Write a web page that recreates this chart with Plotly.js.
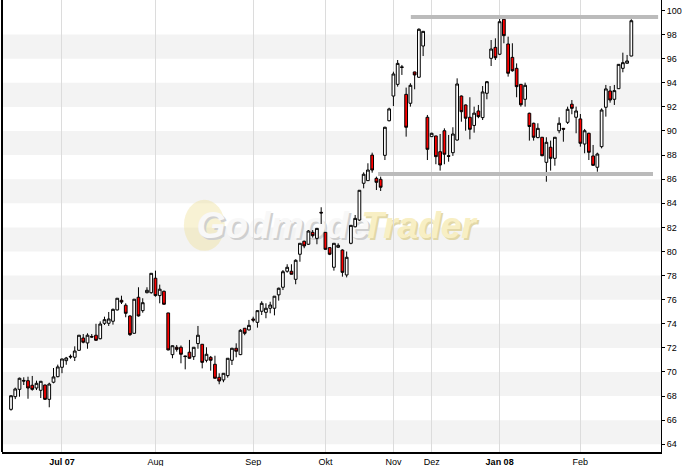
<!DOCTYPE html>
<html>
<head>
<meta charset="utf-8">
<script src="https://cdn.plot.ly/plotly-3.0.1.min.js"></script>
<style>html,body{margin:0;padding:0;background:#fff;}#chart{width:684px;height:466px;}</style>
</head>
<body>
<div id="chart"></div>
<script>
// Daily OHLC values (one entry per trading day)
const openVals = [66.90,67.95,68.56,69.30,69.28,68.90,68.67,68.48,68.92,67.73,69.15,69.61,70.39,70.94,71.30,71.22,71.80,72.82,72.41,72.95,
73.05,72.76,74.04,74.04,74.21,75.15,75.95,75.54,74.65,73.21,76.20,75.09,76.58,76.58,77.78,76.34,76.70,74.90,71.44,72.05,
72.05,71.33,71.64,71.27,72.36,72.30,70.97,71.22,70.64,69.56,69.34,69.70,70.97,71.97,71.44,73.63,73.49,74.40,74.12,75.04,
74.95,75.29,75.29,76.40,77.03,78.36,78.36,77.69,79.77,80.85,80.60,81.59,81.09,83.25,81.59,80.32,78.69,80.35,80.12,78.05,
80.68,82.05,82.61,85.66,85.88,88.00,86.07,85.99,87.98,90.85,92.90,93.87,95.32,93.04,92.30,94.90,94.46,97.05,91.14,89.53,
89.59,88.28,90.02,87.95,88.20,89.25,92.90,92.16,91.14,90.46,91.66,91.11,93.13,96.03,96.94,96.37,99.27,97.22,96.11,95.20,
93.87,92.63,91.47,90.64,89.45,89.48,87.40,88.65,87.73,90.02,90.22,90.72,92.22,91.14,91.00,88.92,89.81,87.93,86.99,88.70,
91.97,93.32,92.63,93.51,95.20,95.62,96.22];
const highVals = [68.05,68.70,69.53,69.56,69.61,69.67,69.28,69.25,68.95,69.11,70.33,70.61,71.10,71.25,71.45,72.13,73.06,73.15,73.21,73.15,
74.00,74.20,74.59,74.98,75.26,76.13,76.33,75.70,74.70,76.05,77.03,76.12,77.03,78.20,78.41,77.25,76.75,74.91,72.20,72.24,
72.20,71.35,72.66,72.06,73.82,72.31,72.05,71.33,71.35,69.89,69.90,71.15,72.00,72.38,73.55,73.65,74.32,74.59,75.10,75.87,
75.70,75.83,76.30,77.00,78.46,78.94,78.94,79.35,80.70,80.90,81.78,81.78,81.95,83.67,81.60,80.35,80.70,80.68,80.18,80.00,
82.20,83.03,85.10,86.57,87.32,88.20,86.21,86.21,90.35,91.93,94.92,95.89,95.48,93.60,93.96,94.92,98.52,98.30,91.33,89.85,
89.60,89.75,90.22,89.67,90.31,94.37,92.95,92.20,92.80,92.02,92.16,93.73,94.15,97.55,97.69,99.35,99.49,97.83,97.28,95.61,
93.90,94.01,91.52,90.69,90.64,89.50,89.48,89.20,89.50,91.14,90.25,92.02,92.57,92.02,91.41,90.17,89.85,88.84,88.20,91.88,
93.82,93.73,93.82,95.55,96.50,96.31,99.27];
const lowVals = [66.79,67.75,67.95,68.92,67.78,68.45,68.50,67.84,67.68,67.07,69.06,69.56,69.90,70.60,71.10,70.91,71.75,72.38,71.93,72.85,
72.60,72.71,73.90,73.82,73.93,75.10,75.64,74.54,72.99,73.20,74.60,74.92,76.53,76.50,76.25,75.70,75.60,71.80,71.14,71.69,
70.72,70.22,71.10,71.00,71.93,70.30,70.80,70.11,69.45,68.98,69.15,69.53,70.58,71.22,71.40,73.05,73.45,74.12,73.68,74.73,
74.46,74.87,74.70,75.92,76.80,78.24,78.10,77.28,79.15,80.27,80.55,81.15,80.60,82.28,80.15,79.70,78.41,80.30,77.91,77.85,
80.60,82.00,82.55,85.24,85.85,86.54,85.10,85.02,87.59,90.80,92.07,93.68,94.65,89.53,92.02,93.46,94.40,96.22,87.59,89.50,
87.24,86.71,87.24,87.45,87.93,89.20,90.77,90.02,89.31,89.86,91.06,90.91,92.63,95.39,95.89,96.30,97.28,94.51,94.92,92.80,
92.02,92.02,89.20,89.20,89.40,87.90,85.79,86.71,87.12,89.81,89.11,90.58,91.39,89.81,88.70,88.15,87.59,87.10,86.62,88.56,
91.19,92.35,92.16,93.50,94.87,95.60,96.20];
const closeVals = [68.03,68.59,69.48,69.25,68.67,68.56,69.06,69.23,67.73,69.00,69.59,70.42,71.08,71.16,71.25,71.74,73.05,72.47,73.05,72.90,
72.63,73.98,74.34,74.40,75.20,76.12,75.80,74.87,73.10,76.04,74.65,75.75,76.78,78.19,76.34,76.87,75.62,71.83,72.18,71.88,
71.47,71.28,71.14,72.05,73.05,70.80,71.47,70.97,69.48,69.25,69.89,71.14,71.97,71.72,73.46,73.21,73.87,74.30,75.09,75.70,
75.29,75.56,76.29,76.95,78.32,78.69,78.11,79.27,80.68,80.46,81.70,81.31,81.92,83.20,80.18,79.77,80.68,80.51,78.27,79.52,
82.17,82.75,85.08,86.41,86.76,86.76,85.74,85.33,90.31,91.83,94.73,95.61,95.28,90.31,93.79,94.65,98.44,98.27,88.48,89.81,
87.87,87.18,88.07,87.90,89.75,93.90,91.60,91.06,90.14,91.48,91.19,93.24,94.09,96.80,96.08,99.07,97.91,94.79,95.00,93.68,
92.18,93.79,90.37,89.48,90.22,87.95,89.06,87.73,89.48,90.64,90.15,91.80,91.88,91.66,88.98,90.02,88.23,87.15,88.09,91.74,
93.49,92.57,93.35,95.53,95.67,95.81,99.15];

// Month labels at the trading-day index where each month begins
const monthIdx = [12, 34, 57, 74, 90, 99, 115, 134];
const monthLabels = ['<b>Jul 07</b>', 'Aug', 'Sep', 'Okt', 'Nov', 'Dez', '<b>Jan 08</b>', 'Feb'];

// Price ticks
const priceTicks = [64,66,68,70,72,74,76,78,80,82,84,86,88,90,92,94,96,98,100];

// Horizontal levels: resistance and support
const resistance = 99.46;
const support = 86.43;

const dayIdx = openVals.map((_, i) => i);

const trace = {
  type: 'candlestick',
  x: dayIdx,
  open: openVals, high: highVals, low: lowVals, close: closeVals,
  increasing: {line: {color: '#000000', width: 1}, fillcolor: '#FFFFFF'},
  decreasing: {line: {color: '#000000', width: 1}, fillcolor: '#FF0000'},
  whiskerwidth: 0,
  hoverinfo: 'skip',
  showlegend: false
};

const shapes = [];
// alternating light bands
for (let v = 64; v < 100; v += 4) {
  shapes.push({type: 'rect', layer: 'below', xref: 'paper', yref: 'y', x0: 0, x1: 1, y0: v, y1: v + 2,
    fillcolor: '#F3F3F3', line: {width: 0}});
}
// watermark logo circle
shapes.push({type: 'circle', layer: 'below', xref: 'paper', yref: 'paper',
  x0: 0.276, x1: 0.338, y0: 0.445, y1: 0.558,
  fillcolor: 'rgba(240,226,160,0.45)', line: {width: 0}});
// watermark text (shadow + face)
const wm = [
  {t: 'Godmode', x0: 0.305, x1: 0.548, dx: 0.003, dy: -0.005, c: '#CFCFCF'},
  {t: 'Godmode', x0: 0.305, x1: 0.548, dx: 0, dy: 0, c: '#F8F8F8'},
  {t: 'Trader', x0: 0.546, x1: 0.718, dx: 0.003, dy: -0.005, c: '#E2D8A8'},
  {t: 'Trader', x0: 0.546, x1: 0.718, dx: 0, dy: 0, c: '#F8EFC4'}
];
wm.forEach(w => shapes.push({type: 'rect', layer: 'below', xref: 'paper', yref: 'paper',
  x0: w.x0 + w.dx, x1: w.x1 + w.dx, y0: 0.465 + w.dy, y1: 0.555 + w.dy,
  fillcolor: 'rgba(0,0,0,0)', line: {width: 0},
  label: {text: w.t, textposition: 'middle center',
    font: {family: 'Liberation Sans, Arial, sans-serif', size: 37, color: w.c, weight: 'bold', style: 'italic'}}}));
// left frame line
shapes.push({type: 'line', layer: 'above', xref: 'paper', yref: 'paper', x0: 0, x1: 0, y0: 0, y1: 1,
  line: {color: '#000000', width: 2}});
// resistance / support lines
shapes.push({type: 'line', layer: 'above', xref: 'x', yref: 'y', x0: 94.1, x1: 152.3, y0: resistance, y1: resistance,
  line: {color: '#BBBBBB', width: 4}});
shapes.push({type: 'line', layer: 'above', xref: 'x', yref: 'y', x0: 86.4, x1: 151.1, y0: support, y1: support,
  line: {color: '#BBBBBB', width: 4}});

const layout = {
  width: 684, height: 466,
  margin: {l: 2, r: 23, t: 0, b: 14, pad: 0},
  paper_bgcolor: '#FFFFFF', plot_bgcolor: '#FFFFFF',
  showlegend: false,
  boxgap: 0.08,
  xaxis: {
    range: [-2.12, 152.98], type: 'linear',
    rangeslider: {visible: false},
    tickmode: 'array', tickvals: monthIdx, ticktext: monthLabels,
    showgrid: true, gridcolor: '#DCDCDC', gridwidth: 1,
    zeroline: false, showline: true, linecolor: '#000000', linewidth: 2,
    ticks: '', ticklabelstandoff: 0,
    tickfont: {family: 'Liberation Sans, Arial, sans-serif', size: 9, color: '#000000'}
  },
  yaxis: {
    side: 'right', range: [63.36, 100.87],
    tickmode: 'array', tickvals: priceTicks,
    showgrid: false, zeroline: false,
    showline: true, linecolor: '#000000', linewidth: 1,
    ticks: 'outside', ticklen: 3, tickcolor: '#000000',
    tickfont: {family: 'Liberation Sans, Arial, sans-serif', size: 9, color: '#000000'}
  },
  shapes: shapes
};

Plotly.newPlot('chart', [trace], layout, {staticPlot: true, displayModeBar: false});
</script>
</body>
</html>
